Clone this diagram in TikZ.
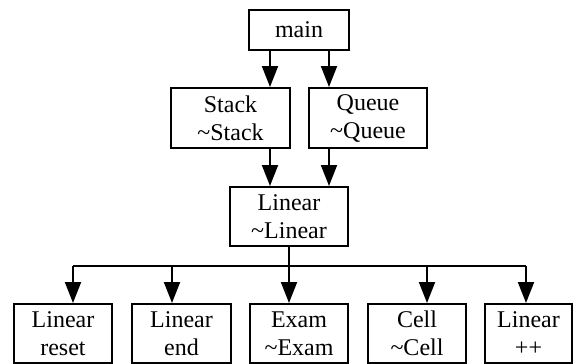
\documentclass[tikz,border=0pt]{standalone}
\usepackage{fontspec}
\setmainfont{Liberation Serif}
\usetikzlibrary{arrows.meta}
\begin{document}
\begin{tikzpicture}[x=1pt,y=-1pt,
  box/.style={draw,line width=2pt,inner sep=0pt,align=center,
    font=\fontsize{24}{28}\selectfont},
  arr/.style={line width=2pt,-{Triangle[length=21pt,width=16pt]}},
  bus/.style={line width=1.6pt}]
\useasboundingbox (0,0) rectangle (576,364);
\node[box,minimum width=100pt,minimum height=40pt] (main) at (299,30) {main};
\node[box,minimum width=119pt,minimum height=60pt] (stack) at (230.5,118) {Stack\\\textasciitilde Stack};
\node[box,minimum width=118pt,minimum height=60pt] (queue) at (368,118) {Queue\\\textasciitilde Queue};
\node[box,minimum width=118pt,minimum height=59pt] (linear) at (289,216.5) {Linear\\\textasciitilde Linear};
\node[box,minimum width=98pt,minimum height=59pt] (reset) at (63,333.5) {Linear\\reset};
\node[box,minimum width=99pt,minimum height=59pt] (end) at (181.5,333.5) {Linear\\end};
\node[box,minimum width=98pt,minimum height=59pt] (exam) at (299,333.5) {Exam\\\textasciitilde Exam};
\node[box,minimum width=98pt,minimum height=59pt] (cell) at (417,333.5) {Cell\\\textasciitilde Cell};
\node[box,minimum width=87pt,minimum height=59pt] (plus) at (528.5,333.5) {Linear\\++};
\coordinate (xa) at (270,0);
\coordinate (xb) at (329,0);
\coordinate (bus) at (0,266);
\coordinate (x1) at (73,0);
\coordinate (x2) at (172,0);
\coordinate (x4) at (427,0);
\coordinate (x5) at (526,0);
\draw[arr] (main.south -| xa) -- (stack.north -| xa);
\draw[arr] (main.south -| xb) -- (queue.north -| xb);
\draw[arr] (stack.south -| xa) -- (linear.north -| xa);
\draw[arr] (queue.south -| xb) -- (linear.north -| xb);
\draw[bus] (bus -| x1) -- (bus -| x5);
\draw[arr] (linear.south) -- (exam.north -| linear.south);
\draw[arr] (bus -| x1) -- (reset.north -| x1);
\draw[arr] (bus -| x2) -- (end.north -| x2);
\draw[arr] (bus -| x4) -- (cell.north -| x4);
\draw[arr] (bus -| x5) -- (plus.north -| x5);
\end{tikzpicture}
\end{document}
